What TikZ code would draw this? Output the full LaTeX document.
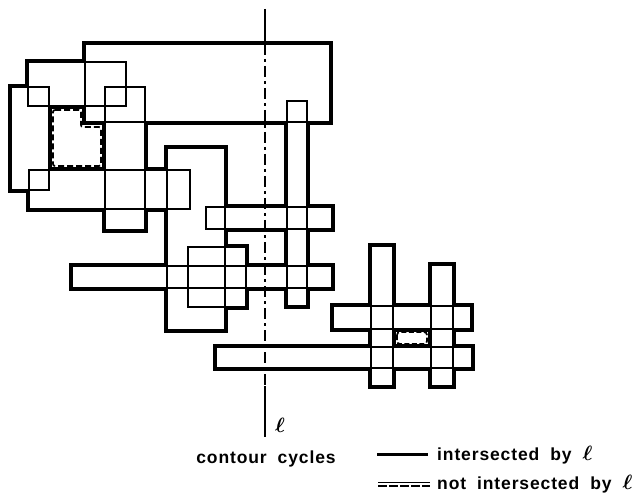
\documentclass[tikz,border=0pt]{standalone}
\usepackage{amsmath}
\usepackage{fontspec}
\setmainfont{Liberation Sans}
\newcommand\lbfont{\bfseries\fontsize{17.5}{20}\selectfont\addfontfeatures{LetterSpace=5}\spaceskip=11pt\relax}
\newcommand\ellsym{{\fontsize{21}{24}\selectfont$\boldsymbol{\ell}$}}
\newcommand\rectlist{85/44/330/122,28/62/126/106,11/87/49/190,105/87/145/230,29/170/190/209,167/148/225/330,287/101/307/306,206/207/332/229,72/266/332/288,188/247/246/307,216/347/472/368,371/246/393/386,431/265/453/386,333/306/471/329}
\begin{document}
\begin{tikzpicture}[x=1pt,y=-1pt,
  thickedge/.style={line width=5.2pt,line join=miter},
  thinedge/.style={line width=1.9pt},
  holedash/.style={line width=1.7pt,dash pattern=on 6pt off 3pt,rounded corners=2pt},
  axisline/.style={line width=1.6pt},
  lbl/.style={font=\lbfont,inner sep=0pt}]
\useasboundingbox (0,0) rectangle (643,500);
% union outline: thick strokes, white fill, thin strokes
\foreach \a/\b/\c/\d in \rectlist {\draw[thickedge] (\a,\b) rectangle (\c,\d);}
\foreach \a/\b/\c/\d in \rectlist {\fill[white] (\a,\b) rectangle (\c,\d);}
\foreach \a/\b/\c/\d in \rectlist {\draw[thinedge] (\a,\b) rectangle (\c,\d);}
% holes not intersected by l
\draw[holedash] (53,110) -- (81,110) -- (81,127) -- (101,127) -- (101,166) -- (53,166) -- cycle;
\draw[holedash,dash pattern=on 5pt off 2.5pt,rounded corners=3pt] (397,332) rectangle (427,344);
% line l
\coordinate (ltop) at (265,9);
\coordinate (lA) at (265,44);
\coordinate (lB) at (265,386);
\coordinate (lbot) at (265,437);
\draw[axisline] (ltop) -- (lA);
\draw[axisline,dash pattern=on 11pt off 4pt on 3pt off 4pt] (lA) -- (lB);
\draw[axisline] (lB) -- (lbot);
\node[inner sep=0pt] (ell) at (280,425) {\ellsym};
% legend
\node[lbl] (cc) at (266,459) {contour cycles};
\coordinate (l1a) at (377,454);
\coordinate (l1b) at (428,454);
\draw[line width=3pt] (l1a) -- (l1b);
\node[lbl,anchor=west] (t1) at (437,455) {intersected by \ellsym};
\coordinate (l2a) at (378,482.5);
\coordinate (l2b) at (430,482.5);
\coordinate (l3a) at (378,486);
\coordinate (l3b) at (430,486);
\draw[line width=1.8pt] (l2a) -- (l2b);
\draw[line width=2.6pt,dash pattern=on 9pt off 2pt] (l3a) -- (l3b);
\node[lbl,anchor=west] (t2) at (437,484) {not intersected by \ellsym};
\end{tikzpicture}
\end{document}
